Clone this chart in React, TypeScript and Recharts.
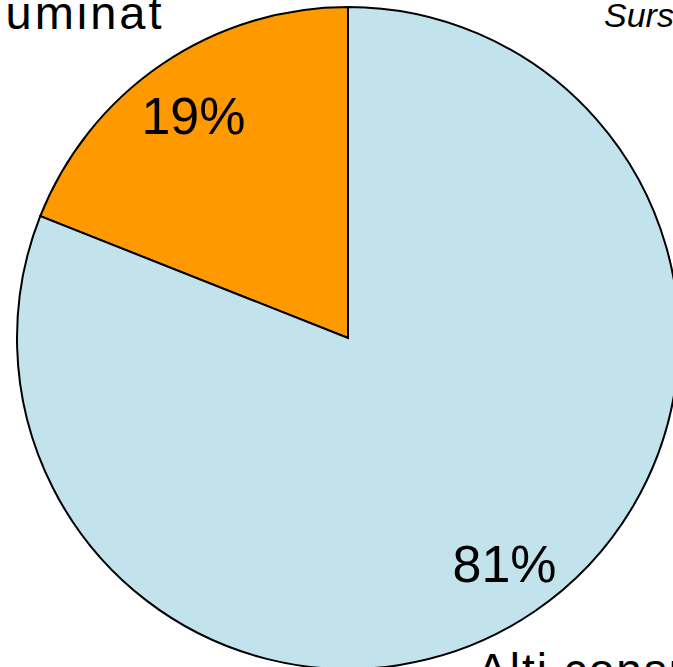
import { Cell, Pie, PieChart } from "recharts";

const categories = ["Iluminat", "Alti consumatori"];
const shares = [19, 81];
const colors = ["#FF9900", "#C2E3EB"];
const sourceNote = "Sursa: ";

const data = categories.map((name, i) => ({ name, value: shares[i] }));

const RADIAN = Math.PI / 180;

function PctLabel(props: any) {
  const { cx, cy, midAngle, outerRadius, value } = props;
  const r = outerRadius * 0.82;
  const x = cx + r * Math.cos(-midAngle * RADIAN);
  const y = cy + r * Math.sin(-midAngle * RADIAN);
  return (
    <text x={x + (value > 50 ? 4 : -2)} y={y + 2} textAnchor="middle" dominantBaseline="central" fill="#000"
      style={{ fontFamily: "'Liberation Sans', Arial, sans-serif", fontSize: 52 }}>
      {value}%
    </text>
  );
}

export default function App() {
  const font = "'Liberation Sans', Arial, sans-serif";
  return (
    <div style={{ position: "absolute", left: 0, top: 0, width: 673, height: 667, background: "#fff", overflow: "hidden" }}>
      <PieChart width={673} height={667} margin={{ top: 0, right: 0, bottom: 0, left: 0 }}>
        <Pie
          data={data}
          dataKey="value"
          nameKey="name"
          cx={348}
          cy={338}
          outerRadius={331}
          startAngle={90}
          endAngle={450}
          stroke="#000"
          strokeWidth={2}
          labelLine={false}
          label={PctLabel}
          isAnimationActive={false}
        >
          {data.map((d, i) => <Cell key={d.name} fill={colors[i]} />)}
        </Pie>
      </PieChart>
      <svg width={673} height={667} style={{ position: "absolute", left: 0, top: 0, pointerEvents: "none" }}>
        <text x={-24} y={29} fill="#000" style={{ fontFamily: font, fontSize: 47, letterSpacing: 3 }}>
          {categories[0]}
        </text>
        <text x={477} y={686} fill="#000" style={{ fontFamily: font, fontSize: 46, letterSpacing: 2 }}>
          {categories[1]}
        </text>
        <text x={604} y={27} fill="#000" style={{ fontFamily: font, fontSize: 34, fontStyle: "italic" }}>
          {sourceNote}
        </text>
      </svg>
    </div>
  );
}
